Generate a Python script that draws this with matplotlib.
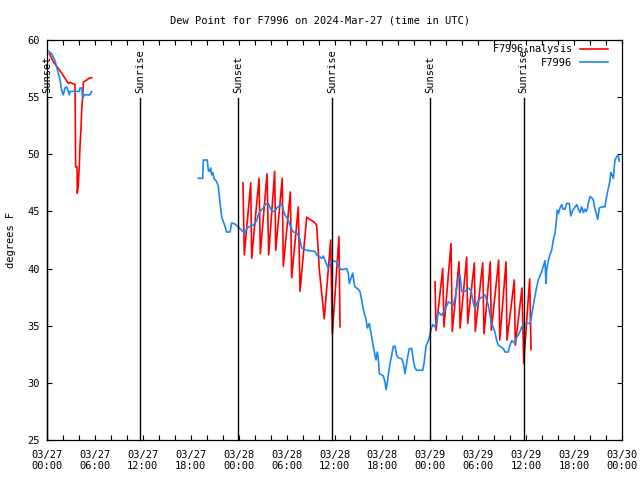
import numpy as np
import pandas as pd
import matplotlib
matplotlib.use('Agg')
import matplotlib.pyplot as plt
import matplotlib.dates as mdates

plt.rcParams['font.family'] = 'DejaVu Sans Mono'
plt.rcParams['font.size'] = 7.5
plt.rcParams['mathtext.fontset'] = 'dejavusans'

nan = np.nan
base = pd.Timestamp('2024-03-27 00:00')

# F7996 observations (hours after 03/27 00:00, deg F), nan = gap
obs_hours = [0.0, 0.59, 1.0, 1.41, 1.63, 1.84, 2.04, 2.25, 2.47, 2.79, 2.88, 4.04, 4.13, 4.35,
             4.47, 4.67, 5.38, 5.6, 12.0,
             18.95, 19.5, 19.57, 20.07, 20.2, 20.32, 20.5, 20.62, 20.75, 20.91, 21.25, 21.45,
             21.58, 21.75, 21.88, 22.08, 22.29, 22.5, 22.92, 23.13, 23.54, 24.17, 24.58, 24.79,
             25.0, 25.42, 25.83, 26.26, 26.46, 26.67, 27.08, 27.3, 27.71, 28.14, 28.55, 28.76,
             29.39, 29.59, 29.8, 30.22, 30.43, 30.84, 31.27, 31.47, 31.68, 31.89, 32.52, 33.56,
             33.77, 34.4, 34.6, 35.22, 35.65, 36.28, 36.69, 36.9, 37.53, 37.73, 37.85, 38.28,
             38.44, 38.57, 38.98, 39.19, 39.41, 39.61, 39.94, 40.11, 40.36, 40.45, 40.66, 40.86,
             41.07, 41.2, 41.36, 41.49, 41.61, 41.91, 42.11, 42.32, 42.45, 42.61, 42.74, 42.95,
             43.16, 43.36, 43.58, 43.79, 43.99, 44.42, 44.62, 44.83, 45.12, 45.37, 45.67, 45.87,
             46.08, 46.29, 47.05, 47.21, 47.46, 47.75, 47.96, 48.05, 48.3, 48.59, 48.8, 49.0,
             49.42, 49.84, 50.25, 50.46, 50.88, 51.09, 51.3, 51.5, 51.72, 51.93, 52.34, 52.76,
             53.09, 53.38, 53.59, 53.84, 54.22, 54.84, 55.26, 55.47, 55.69, 55.89, 56.1, 56.31,
             56.51, 57.14, 57.35, 57.76, 57.98, 58.19, 58.6, 58.82, 59.02, 59.23, 59.44, 59.64,
             60.07, 60.48, 60.69, 60.89, 61.11, 61.32, 61.52, 61.73, 61.94, 62.15, 62.36, 62.48,
             62.57, 62.77, 62.98, 63.19, 63.4, 63.61, 63.74, 63.9, 64.03, 64.24, 64.45, 64.62,
             64.86, 65.08, 65.4, 65.58, 65.83, 66.33, 66.53, 66.74, 66.95, 67.16, 67.37, 67.49,
             67.66, 67.78, 68.0, 68.21, 68.41, 68.62, 68.83, 68.96, 69.16, 69.46, 69.87, 70.0,
             70.16, 70.34, 70.5, 70.59, 70.75, 70.92, 71.0, 71.13, 71.34, 71.54, 71.66]
obs_dew = [59.1, 58.8, 58.2, 57.1, 56.5, 55.6, 55.2, 55.8, 55.9, 55.2, 55.5, 55.5, 55.8, 55.8,
           54.9, 55.2, 55.2, 55.5, nan,
           47.9, 47.9, 49.5, 49.5, 48.6, 48.5, 48.8, 48.2, 48.4, 47.9, 47.6, 47.2,
           46.3, 45.3, 44.5, 44.1, 43.7, 43.2, 43.2, 44.0, 43.9, 43.5, 43.2, 43.1,
           43.5, 43.7, 43.8, 44.2, 44.7, 45.0, 45.3, 45.6, 45.7, 45.0, 45.0, 45.3,
           45.7, 45.1, 44.7, 44.2, 43.8, 43.2, 43.1, 42.9, 42.5, 41.8, 41.6, 41.5,
           41.2, 40.9, 41.1, 40.0, 40.7, 40.6, 40.0, 39.9, 40.0, 39.6, 38.7, 39.6,
           38.8, 38.4, 38.2, 38.0, 37.2, 36.4, 35.6, 34.8, 35.2, 34.8, 34.0, 33.2,
           32.4, 32.0, 32.7, 32.1, 30.8, 30.7, 30.6, 30.1, 29.4, 30.0, 30.7, 31.7,
           32.4, 33.2, 33.2, 32.4, 32.2, 32.1, 31.7, 30.8, 32.1, 33.0, 33.0, 32.0,
           31.3, 31.1, 31.1, 31.7, 33.2, 33.7, 34.2, 34.6, 35.1, 34.9, 35.5, 36.2,
           35.9, 36.4, 37.1, 37.0, 36.8, 37.4, 38.3, 39.3, 39.4, 38.0, 38.0, 38.3,
           38.1, 37.0, 36.5, 37.0, 37.4, 37.7, 36.8, 35.9, 35.2, 34.8, 34.4, 33.7,
           33.3, 33.0, 32.7, 32.7, 33.3, 33.7, 33.5, 34.0, 34.2, 34.5, 34.9, 35.1,
           35.2, 35.2, 35.9, 36.8, 37.6, 38.4, 39.0, 39.4, 39.7, 40.2, 40.7, 38.7,
           39.9, 40.7, 41.2, 41.6, 42.5, 43.1, 43.9, 45.1, 44.8, 45.3, 45.6, 45.2,
           45.2, 45.7, 45.7, 44.6, 45.1, 45.6, 45.2, 44.9, 45.4, 44.9, 45.2, 45.0,
           45.2, 45.7, 46.3, 46.2, 46.0, 45.2, 44.7, 44.3, 45.3, 45.4, 45.4, 46.0,
           46.6, 47.2, 47.7, 48.4, 48.2, 47.9, 48.7, 49.5, 49.8, 49.9, 49.4]

# F7996 analysis
ana_hours = [0.3, 0.79, 1.84, 2.67, 2.88, 3.51, 3.59, 3.76, 3.79, 3.92, 4.04, 4.13, 4.26,
             4.35, 4.47, 4.55, 4.97, 5.38, 5.6, 12.0,
             24.54, 24.71, 25.51, 25.63, 26.55, 26.71, 27.55, 27.76, 28.51, 28.64, 29.46,
             29.59, 30.47, 30.64, 31.47, 31.68, 32.52, 32.9, 33.4, 33.77, 34.1, 34.72, 35.52,
             35.73, 36.56, 36.69, 42.0,
             48.59, 48.71, 49.55, 49.71, 50.59, 50.75, 51.59, 51.72, 52.55, 52.68, 53.51,
             53.63, 54.56, 54.72, 55.51, 55.64, 56.56, 56.69, 57.48, 57.6, 58.52, 58.64,
             59.48, 59.69, 60.44, 60.61]
ana_dew = [58.8, 58.1, 57.1, 56.2, 56.3, 56.1, 48.9, 48.9, 46.6, 47.3, 48.9, 50.7, 52.3,
           53.9, 55.0, 56.3, 56.5, 56.7, 56.7, nan,
           47.5, 41.2, 47.5, 40.9, 47.9, 41.3, 48.3, 41.2, 48.5, 41.6, 47.9,
           40.2, 46.7, 39.2, 45.4, 38.0, 44.5, 44.3, 44.1, 43.8, 39.9, 35.6, 42.5,
           34.3, 42.8, 34.9, nan,
           38.85, 34.6, 40.0, 34.9, 42.2, 34.5, 40.6, 34.8, 41.0, 35.2, 40.5,
           34.5, 40.5, 34.3, 40.6, 34.6, 40.75, 33.75, 40.6, 33.75, 39.0, 33.3,
           38.3, 31.7, 39.1, 32.9]

sun_labels = ['Sunset', 'Sunrise', 'Sunset', 'Sunrise', 'Sunset', 'Sunrise']
sun_hours = [0.0, 11.65, 23.92, 35.69, 47.96, 59.67]


def to_time(hours):
    return base + pd.to_timedelta(hours, unit='h')


fig = plt.figure(figsize=(6.4, 4.8), dpi=100)
ax = fig.add_axes([47 / 640, 40 / 480, 575 / 640, 400 / 480])

ax.plot(to_time(ana_hours), ana_dew, color='#ff0000', lw=1.2,
        label='F7996$_\\mathtt{A}$nalysis')
ax.plot(to_time(obs_hours), obs_dew, color='#1a87f5', lw=1.2, label='F7996')

trans = ax.get_xaxis_transform()
for name, h in zip(sun_labels, sun_hours):
    t = to_time([h])[0]
    ax.plot([t, t], [0, 0.855], color='black', lw=1.0, transform=trans, clip_on=False)
    ax.text(t, 0.868, name, rotation=90, ha='center', va='bottom', transform=trans,
            fontsize=7.5)

ax.set_xlim(base, base + pd.Timedelta(hours=72))
ax.set_ylim(25, 60)
ax.xaxis.set_major_locator(mdates.HourLocator(byhour=[0, 6, 12, 18]))
ax.xaxis.set_minor_locator(mdates.HourLocator(byhour=range(0, 24, 2)))
ax.xaxis.set_major_formatter(mdates.DateFormatter('%m/%d\n%H:%M'))
ax.yaxis.set_major_locator(plt.MultipleLocator(5))

ax.tick_params(which='both', direction='in', top=True, right=True, length=3.5, width=0.8)
ax.tick_params(axis='x', pad=7)
ax.tick_params(axis='y', pad=5)
for s in ax.spines.values():
    s.set_linewidth(0.9)

ax.set_ylabel('degrees F', labelpad=8)
fig.suptitle('Dew Point for F7996 on 2024-Mar-27 (time in UTC)', y=0.968, fontsize=7.5)

ax.legend(loc='upper right', bbox_to_anchor=(1 - 7 / 575, 1 + 5 / 400), frameon=False,
          markerfirst=False, handlelength=2.7, borderaxespad=0.3, labelspacing=0.15,
          handletextpad=0.7, fontsize=7.5)

fig.savefig('out.png', dpi=100)
